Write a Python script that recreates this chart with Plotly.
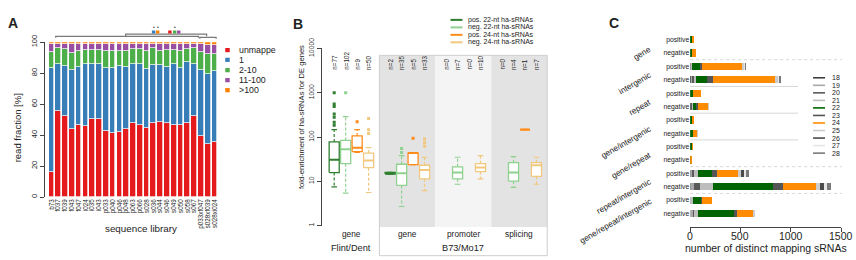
import plotly.graph_objects as go

W, H = 856, 260
FONT = "Liberation Sans, Arial, sans-serif"
TXT = "#222222"


def PX(px):
    return px / W


def PY(py):
    return 1 - py / H


# ---------------- Panel A data ----------------
libraries = ["b73", "f037", "f039", "f043", "f047", "i024", "i035", "i043", "p033", "p040",
             "p046", "p048", "p063", "p066", "s028", "s036", "s044", "s046", "s049", "s050",
             "s058", "s067", "p033xf047", "s028xf039", "s028xi024"]
unmapped = [16, 55.5, 52.5, 43.5, 46.5, 45.5, 50, 50, 42.5, 41.5, 42, 44, 48, 46.5, 44.5,
            48, 48.5, 48, 46.5, 46.5, 47.5, 52.5, 39.5, 34, 35.5]
map_1 = [67, 30, 32, 38.5, 37.5, 40, 36, 36, 41, 42, 42.5, 40, 37.5, 39, 38, 37, 36.5, 36,
         39, 36.5, 39.5, 33.5, 42.5, 45.5, 45.5]
map_2_10 = [10.5, 10.5, 11, 11, 10.5, 9.5, 9, 9, 11, 11, 10, 10.5, 10, 10, 12, 11, 9.5, 11,
            9.5, 11.5, 8.5, 10, 11.5, 12.5, 11.5]
map_11_100 = [5.3, 3, 3.3, 5.5, 4.2, 3.7, 3.7, 3.7, 4, 4, 4.2, 4.2, 3.2, 3.2, 4, 2.7, 4.2,
              3.7, 3.7, 4.2, 3.2, 2.8, 5, 6, 5.8]
map_gt100 = [1.2, 1, 1.2, 1.5, 1.3, 1.3, 1.3, 1.3, 1.5, 1.5, 1.3, 1.3, 1.3, 1.3, 1.5, 1.3,
             1.3, 1.3, 1.3, 1.3, 1.3, 1.2, 1.5, 2, 1.7]
classes_A = ["unmappe", "1", "2-10", "11-100", ">100"]
colors_A = ["#e41a1c", "#377eb8", "#4daf4a", "#984ea3", "#ff7f00"]
series_A = [unmapped, map_1, map_2_10, map_11_100, map_gt100]
yticks_A = [0, 20, 40, 60, 80, 100]

# ---------------- Panel B data ----------------
b_groups = ["gene", "gene", "promoter", "splicing"]
b_regions = ["Flint/Dent", "B73/Mo17"]
b_series = ["pos. 22-nt ha-sRNAs", "neg. 22-nt ha-sRNAs", "pos. 24-nt ha-sRNAs", "neg. 24-nt ha-sRNAs"]
b_colors = ["#2f7f2f", "#8fd18f", "#ff8c1a", "#f2c77e"]
n_pos22 = [77, 2, 0, 0]
n_neg22 = [102, 35, 7, 4]
n_pos24 = [9, 5, 0, 1]
n_neg24 = [50, 33, 10, 7]
# box statistics per group: lower whisker, q1, median, q3, upper whisker
pos22_low = [7.5, 14.6, None, None]
pos22_q1 = [15.8, 14.6, None, None]
pos22_med = [30.6, 15.3, None, None]
pos22_q3 = [77.5, 15.9, None, None]
pos22_high = [147, 15.9, None, None]
pos22_out = [[1000, 560, 490, 330, 280, 215, 185], [], [], []]
neg22_low = [5.4, 2.7, 8.6, 7.3]
neg22_q1 = [25, 8.1, 11.4, 10.1]
neg22_med = [53, 15.3, 15.8, 15.8]
neg22_q3 = [84, 24.3, 21.3, 26.4]
neg22_high = [290, 38, 35, 36]
neg22_out = [[1000], [45, 55], [], []]
pos24_low = [45, 23.9, None, 147.7]
pos24_q1 = [47, 23.9, None, 146]
pos24_med = [57.6, 43.4, None, 147.7]
pos24_q3 = [106, 43.4, None, 149.5]
pos24_high = [147, 43.4, None, 149.5]
pos24_out = [[223], [94], [], []]
neg24_low = [5.6, 6.2, 11.4, 8.6]
neg24_q1 = [20.3, 11.4, 16.6, 13]
neg24_med = [29.6, 18, 20.6, 23.1]
neg24_q3 = [43.4, 23.1, 25.1, 26.4]
neg24_high = [57.6, 35, 38, 35]
neg24_out = [[263, 147, 121], [90, 74, 62], [], []]
yticks_B = [1, 10, 100, 1000, 10000]

# ---------------- Panel C data ----------------
c_features = ["gene", "intergenic", "repeat", "gene/intergenic", "gene/repeat",
              "repeat/intergenic", "gene/repeat/intergenic"]
c_signs = ["positive", "negative"]
c_lengths = ["18", "19", "20", "21", "22", "23", "24", "25", "26", "27", "28"]
c_colors = ["#3d3d3d", "#a8a8a8", "#5a5a5a", "#bdbdbd", "#006400", "#555555", "#ff8c00",
            "#cccccc", "#4a4a4a", "#e6e6e6", "#7a7a7a"]
len18 = [0, 0, 3, 5, 0, 0, 0, 0, 0, 0, 2, 3, 0, 0]
len19 = [2, 4, 12, 20, 3, 8, 2, 3, 2, 0, 15, 40, 10, 30]
len20 = [0, 0, 4, 12, 0, 15, 0, 0, 0, 0, 23, 57, 3, 5]
len21 = [0, 2, 4, 20, 0, 8, 0, 0, 0, 0, 43, 133, 20, 48]
len22 = [15, 18, 77, 110, 27, 36, 20, 22, 18, 2, 140, 590, 84, 350]
len23 = [0, 0, 23, 66, 3, 16, 0, 0, 0, 0, 44, 100, 6, 34]
len24 = [23, 33, 400, 617, 77, 97, 22, 46, 3, 14, 206, 327, 94, 166]
len25 = [0, 0, 17, 30, 0, 4, 0, 2, 0, 0, 34, 38, 0, 10]
len26 = [0, 0, 4, 5, 0, 0, 0, 0, 0, 0, 26, 40, 0, 0]
len27 = [0, 0, 4, 10, 0, 0, 0, 0, 0, 0, 27, 30, 0, 0]
len28 = [0, 0, 2, 5, 0, 0, 0, 0, 0, 0, 23, 44, 0, 0]
c_values = [len18, len19, len20, len21, len22, len23, len24, len25, len26, len27, len28]
xticks_C = [0, 500, 1000, 1500]

fig = go.Figure()
shapes = []
ann = []


def text(x, y, s, size, xref="paper", yref="paper", angle=0, xa="center", ya="middle", bold=False, color=TXT):
    ann.append(dict(x=x, y=y, xref=xref, yref=yref, text=("<b>%s</b>" % s) if bold else s,
                    showarrow=False, textangle=angle, xanchor=xa, yanchor=ya,
                    font=dict(size=size, color=color, family=FONT)))


# ================= Panel A =================
for name, vals, col in zip(classes_A, series_A, colors_A):
    fig.add_trace(go.Bar(x=libraries, y=vals, name=name, marker_color=col,
                         marker_line=dict(color="white", width=0.7), width=0.84,
                         xaxis="x", yaxis="y", showlegend=False))

# significance brackets above panel A (positions as bar indices, heights in %)
brackets = [(0.6, 21.6, 103.7, 102.8), (10.9, 22.8, 105.2, 103.8), (21.8, 24.2, 103.1, 102.2)]
for x0, x1, yt, yb in brackets:
    shapes.append(dict(type="path", xref="x", yref="y domain",
                       path="M %s,%s L %s,%s L %s,%s L %s,%s" % (x0, yb / 100, x0, yt / 100, x1, yt / 100, x1, yb / 100),
                       line=dict(color="#7a7a7a", width=1.3)))
sig_marks = [(15.0, 1), (15.6, 4), (17.4, 0), (18.1, 2), (18.7, 3)]
for xi, ci in sig_marks:
    shapes.append(dict(type="rect", xref="x", yref="y domain", x0=xi - 0.25, x1=xi + 0.25,
                       y0=1.056, y1=1.076, fillcolor=colors_A[ci], line=dict(width=0)))
for xi in [15.0, 15.6, 18.1]:
    text(xi, 1.10, "•", 5, xref="x", yref="y domain", color="#333")

# legend A
leg_y = [41, 51.2, 62, 72.5, 83]
for name, col, py in zip(classes_A, colors_A, leg_y):
    shapes.append(dict(type="rect", xref="paper", yref="paper", x0=PX(224.5), x1=PX(229),
                       y0=PY(py + 2.2), y1=PY(py - 2.2), fillcolor=col, line=dict(width=0)))
    text(PX(236), PY(py), name, 8.8, xa="left")

text(PX(16), PY(122), "read fraction [%]", 9.5, angle=-90)
text(PX(140), PY(228), "sequence library", 9.8)
text(PX(12), PY(13), "A", 14, bold=True)

# ================= Panel B =================
slot = 0.205
bw = 0.09
cw = 0.05
b_stats = [
    (pos22_low, pos22_q1, pos22_med, pos22_q3, pos22_high, pos22_out),
    (neg22_low, neg22_q1, neg22_med, neg22_q3, neg22_high, neg22_out),
    (pos24_low, pos24_q1, pos24_med, pos24_q3, pos24_high, pos24_out),
    (neg24_low, neg24_q1, neg24_med, neg24_q3, neg24_high, neg24_out),
]
b_counts = [n_pos22, n_neg22, n_pos24, n_neg24]

# backgrounds for B73/Mo17
bg_cols = ["#e3e3e3", "#f4f4f4", "#e3e3e3"]
for gi, c in zip([1, 2, 3], bg_cols):
    shapes.append(dict(type="rect", xref="x2", yref="paper", x0=gi - 0.5, x1=gi + 0.5,
                       y0=PY(226.5), y1=PY(46.5), fillcolor=c, line=dict(width=0), layer="below"))
shapes.append(dict(type="rect", xref="x2", yref="paper", x0=0.5, x1=3.5,
                   y0=PY(256.5), y1=PY(46.5), fillcolor="rgba(0,0,0,0)",
                   line=dict(color="#cfcfcf", width=1), layer="below"))

for si in range(4):
    lo, q1, md, q3, hi, outs = b_stats[si]
    col = b_colors[si]
    bx, by, wx, wy, cx, cy, mx, my, ox, oy = [], [], [], [], [], [], [], [], [], []
    for g in range(4):
        if q1[g] is None:
            continue
        x = g + (si - 1.5) * slot
        bx += [x - bw, x + bw, x + bw, x - bw, x - bw, None]
        by += [q1[g], q1[g], q3[g], q3[g], q1[g], None]
        wx += [x, x, None, x, x, None]
        wy += [q3[g], hi[g], None, q1[g], lo[g], None]
        cx += [x - cw, x + cw, None, x - cw, x + cw, None]
        cy += [hi[g], hi[g], None, lo[g], lo[g], None]
        mx += [x - bw, x + bw, None]
        my += [md[g], md[g], None]
        for o in outs[g]:
            ox.append(x)
            oy.append(o)
    fig.add_trace(go.Scatter(x=wx, y=wy, mode="lines", line=dict(color=col, width=1.2, dash="3px,2px"),
                             xaxis="x2", yaxis="y2", showlegend=False, hoverinfo="skip"))
    fig.add_trace(go.Scatter(x=cx, y=cy, mode="lines", line=dict(color=col, width=1.2),
                             xaxis="x2", yaxis="y2", showlegend=False, hoverinfo="skip"))
    fig.add_trace(go.Scatter(x=bx, y=by, mode="lines", fill="toself", fillcolor="white",
                             line=dict(color=col, width=1.3), xaxis="x2", yaxis="y2",
                             showlegend=False, hoverinfo="skip"))
    fig.add_trace(go.Scatter(x=mx, y=my, mode="lines", line=dict(color=col, width=2),
                             xaxis="x2", yaxis="y2", showlegend=False, hoverinfo="skip"))
    fig.add_trace(go.Scatter(x=ox, y=oy, mode="markers", marker=dict(color=col, size=3, symbol="square"),
                             xaxis="x2", yaxis="y2", showlegend=False, hoverinfo="skip"))
    for g in range(4):
        x = g + (si - 1.5) * slot
        text(x, PY(64), "n=%d" % b_counts[si][g], 6.3, xref="x2", angle=-90, ya="bottom")

# legend B
leg_by = [9.3, 17.2, 25, 32.8]
for name, col, py in zip(b_series, b_colors, leg_by):
    shapes.append(dict(type="line", xref="paper", yref="paper", x0=PX(450), x1=PX(462),
                       y0=PY(py), y1=PY(py), line=dict(color=col, width=2)))
    text(PX(465.5), PY(py), name, 7.0, xa="left")

for g, lab in enumerate(b_groups):
    text(g, PY(233.5), lab, 8.3, xref="x2")
text(0, PY(248.5), b_regions[0], 9.2, xref="x2")
text(2, PY(248.5), b_regions[1], 9.2, xref="x2")
text(PX(301.5), PY(111), "fold-enrichment of ha-sRNAs for DE genes", 7.6, angle=-90)
text(PX(297.5), PY(14), "B", 14, bold=True)

# ================= Panel C =================
rows_C = list(range(len(c_features) * 2))
tick_C = [s for f in c_features for s in c_signs]
for name, vals, col in zip(c_lengths, c_values, c_colors):
    fig.add_trace(go.Bar(x=vals, y=rows_C, orientation="h", name=name, marker_color=col,
                         marker_line=dict(width=0), width=0.54, xaxis="x3", yaxis="y3",
                         showlegend=False))

sep_ends = [842, 798, 798, 798, 842, 842]
sep_dash = ["dot", "solid", "solid", "solid", "dot", "dot"]
for k, (xe, ds) in enumerate(zip(sep_ends, sep_dash)):
    yv = 2 * k + 1.5
    shapes.append(dict(type="line", xref="paper", yref="y3", x0=PX(690), x1=PX(xe), y0=yv, y1=yv,
                       line=dict(color="#d6d6d6", width=1, dash=ds), layer="below"))

# feature labels (rotated)
feat_py = [44.7, 75.5, 101, 137.5, 161.5, 194, 220.5]
for f, py in zip(c_features, feat_py):
    text(PX(655), PY(py), f, 8.2, angle=-30, xa="right")

# legend C
for i, (name, col) in enumerate(zip(c_lengths, c_colors)):
    py = 70 + i * 7.9
    shapes.append(dict(type="line", xref="paper", yref="paper", x0=PX(813), x1=PX(825),
                       y0=PY(py), y1=PY(py), line=dict(color=col, width=1.6)))
    text(PX(829.5), PY(py), name, 7.0, xa="left")

for v in xticks_C:
    text(v, PY(235.5), str(v), 10.5, xref="x3")
text(PX(766), PY(248), "number of distinct mapping sRNAs", 10.5)
text(PX(614), PY(12.5), "C", 14, bold=True)

axis_common = dict(showgrid=False, zeroline=False, color=TXT, linecolor="#444", tickcolor="#444")

fig.update_layout(
    width=W, height=H, autosize=False,
    margin=dict(l=0, r=0, t=0, b=0),
    paper_bgcolor="white", plot_bgcolor="rgba(0,0,0,0)",
    font=dict(family=FONT, color=TXT),
    barmode="stack", bargap=0, showlegend=False,
    xaxis=dict(domain=[PX(47.3), PX(217.4)], range=[-0.5, 24.5], anchor="y",
               tickmode="array", tickvals=libraries, ticktext=libraries, tickangle=-90,
               tickfont=dict(size=6.3), ticks="", showline=False, **axis_common),
    yaxis=dict(domain=[PY(195), PY(32.7)], range=[0, 100], anchor="free", position=PX(42.7),
               tickvals=yticks_A, tickangle=-90, tickfont=dict(size=7.5), ticks="outside",
               ticklen=4, showline=True, linewidth=1, **axis_common),
    xaxis2=dict(domain=[PX(320), PX(548)], range=[-0.55, 3.52], anchor="y2", visible=False),
    yaxis2=dict(domain=[PY(225), PY(39.3)], type="log", range=[0, 4], anchor="free", position=PX(320),
                tickvals=yticks_B, ticktext=[str(v) for v in yticks_B], tickangle=-90,
                tickfont=dict(size=6.8), ticks="outside", ticklen=4, showline=True, linewidth=1,
                **axis_common),
    xaxis3=dict(domain=[PX(690), PX(841)], range=[0, 1500], anchor="y3", tickvals=xticks_C,
                showticklabels=False, ticks="outside", ticklen=4, showline=True, linewidth=1,
                **axis_common),
    yaxis3=dict(domain=[PY(226.3), PY(23)], range=[14.0, -0.5], anchor="x3",
                tickmode="array", tickvals=rows_C, ticktext=tick_C, tickfont=dict(size=6.8),
                ticks="", showline=False, **axis_common),
    shapes=shapes,
    annotations=ann,
)

fig.write_html("out.html", config={"displayModeBar": False},
               post_script="document.body.style.margin='0px';")
